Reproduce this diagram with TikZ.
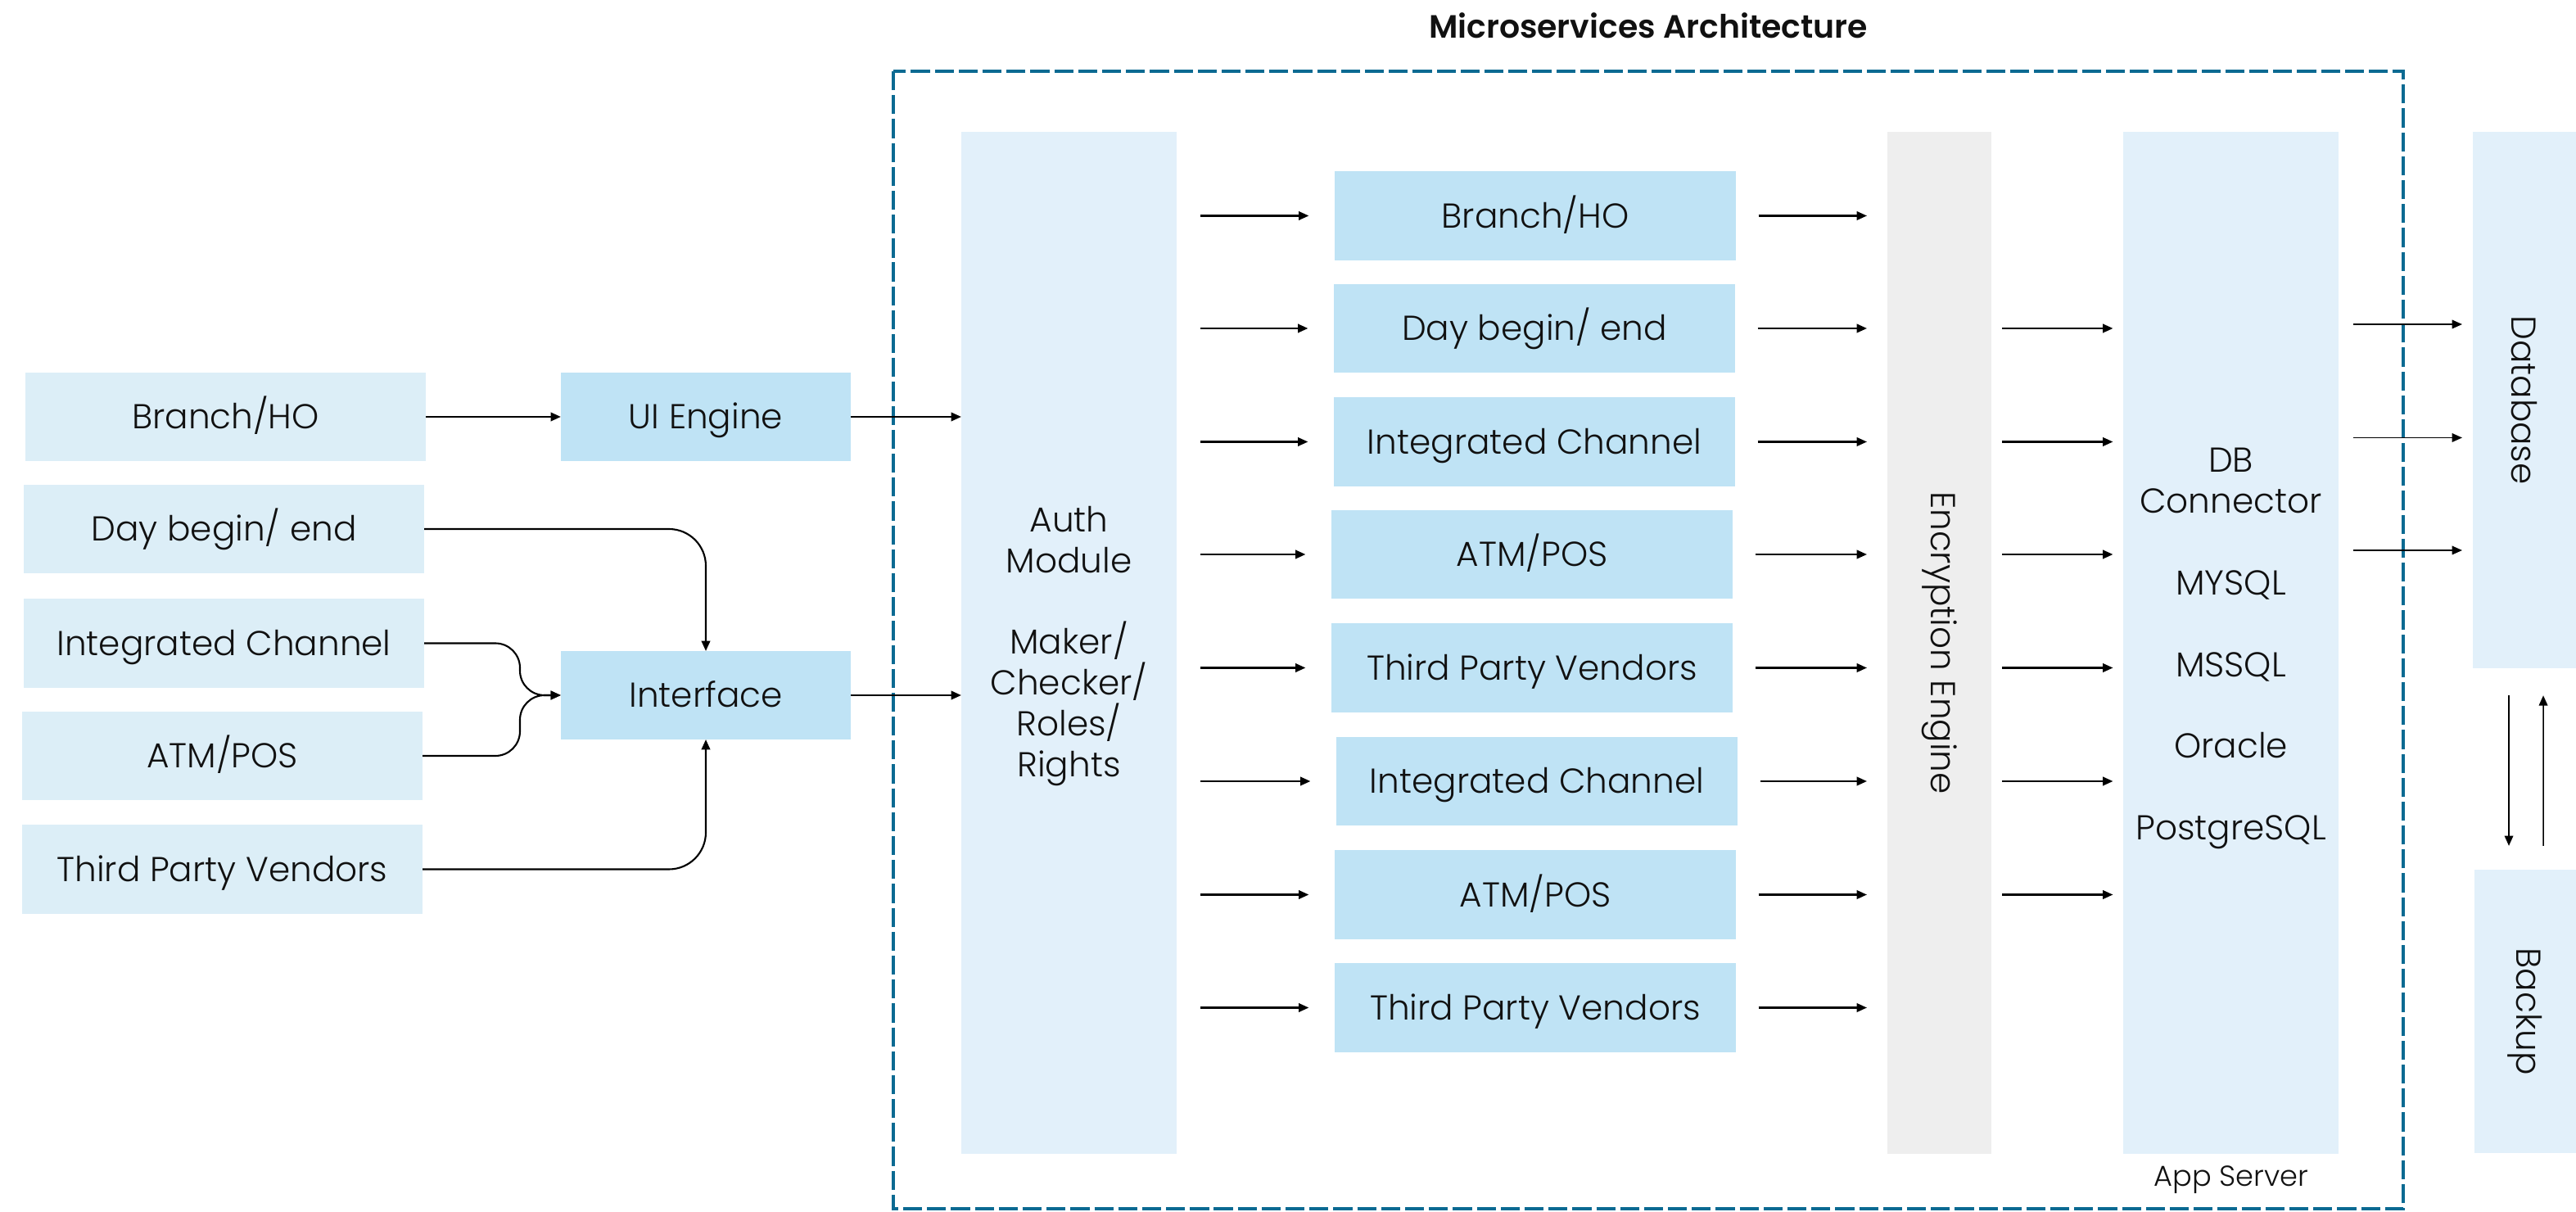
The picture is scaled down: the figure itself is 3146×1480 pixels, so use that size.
\documentclass[tikz,border=0pt]{standalone}
\usepackage{fontspec}
\setmainfont{Poppins}[UprightFont=* Light, BoldFont=* SemiBold]
\usetikzlibrary{arrows.meta}
\definecolor{leftbox}{HTML}{DCEEF7}
\definecolor{bluebox}{HTML}{BFE3F5}
\definecolor{colbox}{HTML}{E2F0FA}
\definecolor{encbox}{HTML}{EEEEEE}
\definecolor{frameblue}{HTML}{0B6A92}
\definecolor{txt}{HTML}{111111}
\begin{document}
\begin{tikzpicture}[x=0.01cm, y=-0.01cm,
  box/.style={inner sep=0pt, outer sep=0pt, align=center, text=txt, font=\fontsize{12}{14.2}\selectfont},
  one/.style={text height=8.4pt, text depth=0pt},
  lbox/.style={box, one, fill=leftbox, minimum width=4.89cm, minimum height=1.08cm},
  bbox/.style={box, one, fill=bluebox, minimum height=1.08cm},
  midbox/.style={bbox, minimum width=4.89cm},
  col/.style={box, fill=colbox, minimum height=12.47cm},
  arr/.style={-{Triangle[length=3.5pt,width=3pt]}, line width=0.6pt, black},
  conn/.style={arr, rounded corners=0.45cm},
  frame/.style={draw=frameblue, line width=1.1pt, dash pattern=on 6.6pt off 1.7pt}
]
\useasboundingbox (0,0) rectangle (3146,1480);

% title and frame
\node[box, one, font=\bfseries\fontsize{11.2}{14}\selectfont] (title) at (2013,32) {Microservices Architecture};
\draw[frame] (1091,87) rectangle (2935,1476);

% left sources
\node[lbox] (lb1) at (275.5,509) {Branch/HO};
\node[lbox] (lb2) at (273.5,646) {Day begin/ end};
\node[lbox] (lb3) at (273.5,785.5) {Integrated Channel};
\node[lbox] (lb4) at (271.5,923) {ATM/POS};
\node[lbox] (lb5) at (271.5,1061.5) {Third Party Vendors};

\node[bbox, minimum width=3.54cm] (ui) at (862,509) {UI Engine};
\node[bbox, minimum width=3.54cm] (intf) at (862,849) {Interface};

% columns
\node[col, minimum width=2.63cm] (auth) at (1305.5,785) {};
\node[box] (autht) at ([yshift=-0.04cm]auth.center)
  {Auth\\Module\\[14.2pt]Maker/\\Checker/\\Roles/\\Rights};
\node[col, fill=encbox, minimum width=1.27cm] (enc) at (2368.5,785) {};
\node[box, rotate=-90] (enct) at (enc.center) {Encryption Engine};
\node[col, minimum width=2.62cm] (dbc) at (2724.5,785) {};
\node[box] (dbct) at ([yshift=-0.07cm]dbc.center)
  {DB\\Connector\\[14.2pt]MYSQL\\[14.2pt]MSSQL\\[14.2pt]Oracle\\[14.2pt]PostgreSQL};
\node[box, one, font=\fontsize{10}{12}\selectfont, text height=7pt] (app) at (2725,1436) {App Server};

% middle services
\node[midbox] (m1) at (1875,263.5) {Branch/HO};
\node[midbox] (m2) at (1874,401) {Day begin/ end};
\node[midbox] (m3) at (1874,539.5) {Integrated Channel};
\node[midbox] (m4) at (1871,677) {ATM/POS};
\node[midbox] (m5) at (1871,815.5) {Third Party Vendors};
\node[midbox] (m6) at (1877,954) {Integrated Channel};
\node[midbox] (m7) at (1875,1092.5) {ATM/POS};
\node[midbox] (m8) at (1875,1230.5) {Third Party Vendors};

% storage
\node[box, fill=colbox, minimum width=1.26cm, minimum height=6.55cm] (dbase) at (3083,488.5) {};
\node[box, rotate=-90] (dbaset) at (dbase.center) {Database};
\node[box, fill=colbox, minimum width=1.24cm, minimum height=3.46cm] (bak) at (3084,1235) {};
\node[box, rotate=-90] (bakt) at (bak.center) {Backup};

% left connectors
\draw[arr] (lb1.east) -- (ui.west);
\draw[conn] (lb2.east) -| (intf.north);
\draw[conn] (lb5.east) -| (intf.south);
\coordinate (merge) at (635,849);
\draw[arr, rounded corners=0.3cm] (lb3.east) -| (merge) -- (intf.west);
\draw[arr, rounded corners=0.3cm] (lb4.east) -| (merge) -- (intf.west);
\draw[arr] (ui.east) -- (auth.west |- ui.east);
\draw[arr] (intf.east) -- (auth.west |- intf.east);

% auth -> services -> encryption
\foreach \m in {m1,m2,m3,m4,m5,m6,m7,m8}{
  \draw[arr, shorten <=0.29cm, shorten >=0.32cm] (auth.east |- \m.west) -- (\m.west);
  \draw[arr, shorten <=0.28cm, shorten >=0.25cm] (\m.east) -- (enc.west |- \m.east);
}
% encryption -> db connector
\foreach \m in {m2,m3,m4,m5,m6,m7}{
  \draw[arr, shorten <=0.13cm, shorten >=0.13cm] (enc.east |- \m.east) -- (dbc.west |- \m.east);
}
% db connector -> database
\foreach \m in {m2,m3,m4}{
  \draw[arr, line width=0.45pt, shorten <=0.18cm, shorten >=0.13cm] ([yshift=0.05cm]dbc.east |- \m.east) -- ([yshift=0.05cm]dbase.west |- \m.east);
}
% database <-> backup
\draw[arr, line width=0.45pt, shorten <=0.33cm, shorten >=0.29cm] ([xshift=-0.19cm]dbase.south) -- ([xshift=-0.2cm]bak.north);
\draw[arr, line width=0.45pt, shorten <=0.29cm, shorten >=0.33cm] ([xshift=0.22cm]bak.north) -- ([xshift=0.23cm]dbase.south);
\end{tikzpicture}
\end{document}
